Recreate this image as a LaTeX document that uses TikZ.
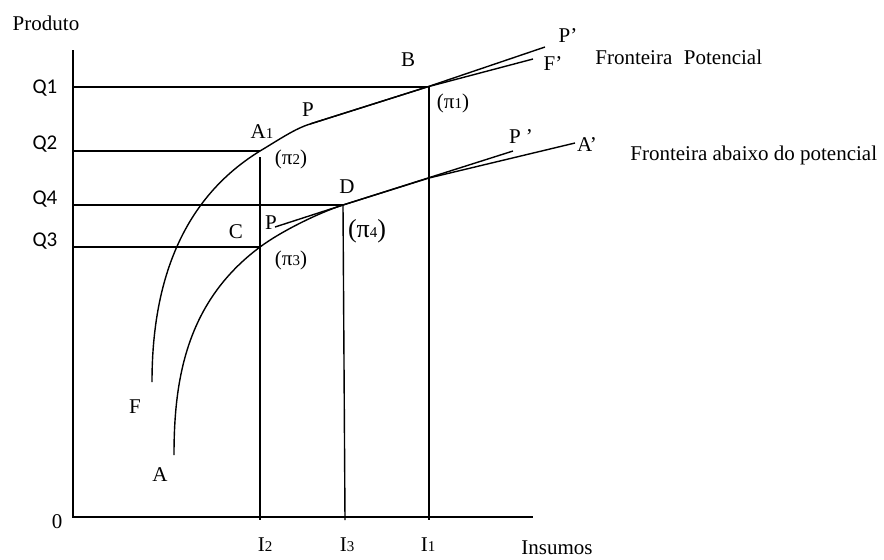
\documentclass[tikz,border=0pt]{standalone}
\usepackage{fontspec}
\setmainfont{Liberation Serif}
\newfontfamily\qfont{Carlito}
\newcommand{\smalldig}[1]{{\fontsize{7.5}{8}\selectfont #1}}
\begin{document}
\begin{tikzpicture}[x=0.5pt,y=-0.5pt,
  every node/.style={inner sep=0pt, font=\fontsize{10.5}{12}\selectfont},
  qlab/.style={font=\qfont\fontsize{10.5}{12}\selectfont},
  biglab/.style={font=\fontsize{13}{15}\selectfont},
  ln/.style={line width=0.7pt},
  ax/.style={line width=1.2pt}]
\useasboundingbox (0,0) rectangle (884,559);
% key points
\coordinate (O) at (73,517);
\coordinate (ytop) at (73,50);
\coordinate (xend) at (533,517);
\coordinate (yQ1) at (73,87);
\coordinate (yQ2) at (73,151);
\coordinate (yQ4) at (73,205);
\coordinate (yQ3) at (73,247);
\coordinate (B) at (427,87);
\coordinate (A1) at (260,151);
\coordinate (D) at (343,205);
\coordinate (C) at (260,247);
\coordinate (I2top) at (260,157);
\coordinate (I2bot) at (260,520);
\coordinate (I3bot) at (345,520);
\coordinate (I1top) at (429,87);
\coordinate (I1bot) at (429,520);
\coordinate (Pu) at (310,124);
\coordinate (Ppu) at (545,47);
\coordinate (Fp) at (533,59);
\coordinate (Pl) at (275,227);
\coordinate (Ppl) at (513,151);
\coordinate (Ap) at (575,143);
\coordinate (Lmid) at (429,178);
\coordinate (Fstart) at (152,382);
\coordinate (Astart) at (174,455);
% axes
\draw[ax] (ytop) -- (O) -- (xend);
% horizontal guides
\draw[ln] (yQ1) -- (B);
\draw[ln] (yQ2) -- (A1);
\draw[ln] (yQ4) -- (D);
\draw[ln] (yQ3) -- (C);
% vertical guides
\draw[ln] (I2top) -- (I2bot);
\draw[ln] (D) -- (I3bot);
\draw[ln] (I1top) -- (I1bot);
% upper frontier
\draw[ln] (Fstart) .. controls (152,300) and (172,205) .. (A1)
  .. controls (280,139) and (295,128.7) .. (Pu) -- (B) -- (Fp);
\draw[ln] (Pu) -- (B) -- (Ppu);
% lower frontier
\draw[ln] (Astart) .. controls (174,380) and (186,302) .. (C)
  .. controls (280,232) and (318,213) .. (D) -- (Lmid) -- (Ap);
\draw[ln] (Pl) -- (D) -- (Ppl);
% labels
\node (produto) at (46,23) {Produto};
\node[qlab] (q1) at (45,88) {Q1};
\node[qlab] (q2) at (45,144) {Q2};
\node[qlab] (q4) at (45,199) {Q4};
\node[qlab] (q3) at (45,241) {Q3};
\node (lB) at (408,60) {B};
\node (lPu) at (308,110) {P};
\node (lA1) at (262,132) {A\smalldig{1}};
\node (pi2) at (291,159) {(π\smalldig{2})};
\node (lD) at (347,187) {D};
\node (lC) at (236,232) {C};
\node (lPl) at (271,223) {P};
\node[biglab] (pi4) at (367,231) {(π\smalldig{4})};
\node (pi3) at (291,260) {(π\smalldig{3})};
\node (pi1) at (453,103) {(π\smalldig{1})};
\node (lPpu) at (568,36) {P’};
\node (lFp) at (553,64) {F’};
\node[anchor=west] (fpot) at (595,57) {Fronteira\hspace{0.3em} Potencial};
\node (lPpl) at (521,137) {P ’};
\node (lAp) at (587,145) {A’};
\node[anchor=west] (fab) at (630,155) {Fronteira abaixo do potencial};
\node (lF) at (135,407) {F};
\node (lA) at (160,475) {A};
\node (l0) at (57,522) {0};
\node (lI2) at (265,545) {I\smalldig{2}};
\node (lI3) at (347,545) {I\smalldig{3}};
\node (lI1) at (428,545) {I\smalldig{1}};
\node (ins) at (557,548) {Insumos};
\end{tikzpicture}
\end{document}
